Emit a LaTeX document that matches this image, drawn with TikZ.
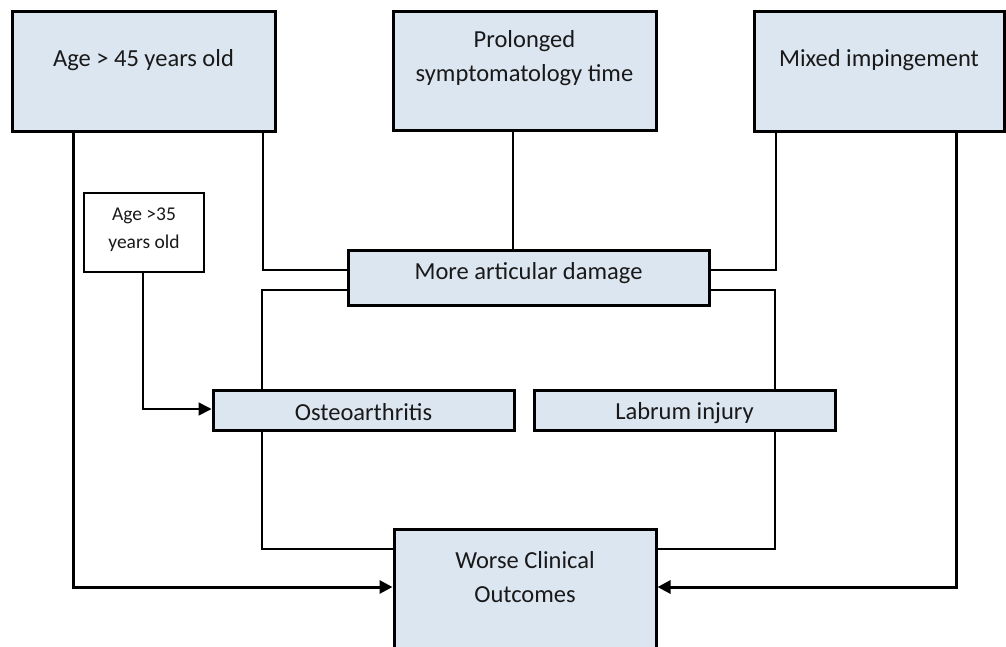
\documentclass[tikz,border=0pt]{standalone}
\usepackage{fontspec}
\setmainfont{Carlito}
\usetikzlibrary{arrows.meta,calc}
\definecolor{boxfill}{HTML}{DCE6F1}
\tikzset{
  box/.style={draw=black, line width=3pt, fill=boxfill, inner sep=0pt, rectangle},
  smallbox/.style={draw=black, line width=1.8pt, fill=white, inner sep=0pt, rectangle},
  txt/.style={font=\fontsize{24.5}{34}\selectfont, align=center, text=black!90},
  stxt/.style={font=\fontsize{19.5}{28}\selectfont, align=center, text=black!90},
  thin/.style={line width=1.7pt},
  heavy/.style={line width=3pt},
  arr/.style={-{Triangle[length=13pt,width=13pt]}}
}
\begin{document}
\begin{tikzpicture}[x=1pt,y=-1pt]
\useasboundingbox (0,0) rectangle (1006,646);
\clip (0,0) rectangle (1006,646);
\coordinate (xa) at (73,0);
\coordinate (xb) at (263,0);
\coordinate (xp) at (513,0);
\coordinate (xm) at (776,0);
\coordinate (xn) at (956,0);
\coordinate (xo) at (262,0);
\coordinate (xl) at (775,0);
\coordinate (xs) at (143,0);
\coordinate (y1) at (0,270);
\coordinate (y2) at (0,290);
\coordinate (y3) at (0,409);
\coordinate (y4) at (0,549);
\coordinate (y5) at (0,587);
% nodes
\node[box, minimum width=263pt, minimum height=120pt,
  label={[txt, yshift=11pt]center:Age > 45 years old}] (A) at (143.5,71) {};
\node[box, minimum width=263pt, minimum height=119pt,
  label={[txt, yshift=12pt]center:Prolonged\\symptomatology time}] (P) at (524.5,70.5) {};
\node[box, minimum width=250pt, minimum height=120pt,
  label={[txt, yshift=11pt]center:Mixed impingement}] (M) at (879,71) {};
\node[smallbox, minimum width=120pt, minimum height=79pt,
  label={[stxt, yshift=3pt]center:Age >35\\years old}] (S) at (144,232.5) {};
\node[box, minimum width=361pt, minimum height=55pt,
  label={[txt, yshift=4pt]center:More articular damage}] (D) at (528.5,277.5) {};
\node[box, minimum width=301pt, minimum height=40pt,
  label={[txt, yshift=-2pt]center:Osteoarthritis}] (O) at (363.5,410) {};
\node[box, minimum width=301pt, minimum height=40pt,
  label={[txt, yshift=-3pt]center:Labrum injury}] (L) at (684.5,410) {};
\node[box, minimum width=262pt, minimum height=120pt,
  label={[txt, yshift=12pt]center:Worse Clinical\\Outcomes}] (W) at (525,589) {};
% connectors
\draw[thin] (A.south -| xb) |- (D.west |- y1);
\draw[thin] (P.south -| xp) -- (D.north -| xp);
\draw[thin] (M.south -| xm) |- (D.east |- y1);
\draw[thin] (D.west |- y2) -| (O.north -| xo);
\draw[thin] (D.east |- y2) -| (L.north -| xl);
\draw[thin, arr] (S.south -| xs) |- (O.west |- y3);
\draw[thin] (O.south -| xo) |- (W.west |- y4);
\draw[thin] (L.south -| xl) |- (W.east |- y4);
\draw[heavy, arr] (A.south -| xa) |- (W.west |- y5);
\draw[heavy, arr] (M.south -| xn) |- (W.east |- y5);
\end{tikzpicture}
\end{document}
